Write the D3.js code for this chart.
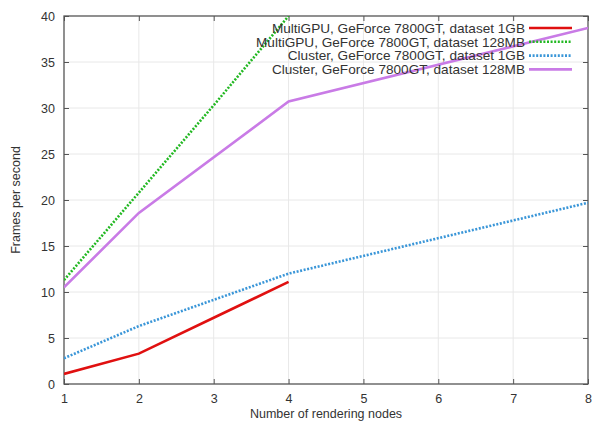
<!DOCTYPE html>
<html><head><meta charset="utf-8">
<script src="https://cdn.jsdelivr.net/npm/d3@7"></script>
<style>
body{margin:0;background:#fff;}
text{font-family:"Liberation Sans",Arial,sans-serif;}
</style></head>
<body><svg id="c" width="594" height="423"></svg>
<script>
const xTicks = [1,2,3,4,5,6,7,8];
const yTicks = [0,5,10,15,20,25,30,35,40];
const seriesNames = [
  "MultiGPU, GeForce 7800GT, dataset 1GB",
  "MultiGPU, GeForce 7800GT, dataset 128MB",
  "Cluster, GeForce 7800GT, dataset 1GB",
  "Cluster, GeForce 7800GT, dataset 128MB"
];
const multiNodes = [1,2,3,4];
const clusterNodes = [1,2,4,8];
const multi1GB = [1.1,3.3,7.2,11.1];
const multi128MB = [11.3,20.8,30.3,40];
const cluster1GB = [2.8,6.3,12.0,19.7];
const cluster128MB = [10.5,18.6,30.7,38.7];
const colors = ["#e01010","#22b822","#3a96d8","#c97be6"];
const dashes = [null,"2,1.6","2,1.6",null];

const svg = d3.select("#c");
const L=64,R=588,T=16,B=384;
const x = d3.scaleLinear().domain([1,8]).range([L,R]);
const y = d3.scaleLinear().domain([0,40]).range([B,T]);

// grid
svg.append("g").selectAll("line").data(xTicks.slice(1,-1)).join("line")
  .attr("x1",d=>x(d)).attr("x2",d=>x(d)).attr("y1",T).attr("y2",B)
  .attr("stroke","#e8e8e8").attr("stroke-width",1);
svg.append("g").selectAll("line").data(yTicks.slice(1,-1)).join("line")
  .attr("y1",d=>y(d)).attr("y2",d=>y(d)).attr("x1",L).attr("x2",R)
  .attr("stroke","#e8e8e8").attr("stroke-width",1);

// axes
const ax = svg.append("g").attr("transform",`translate(0,${B})`)
  .call(d3.axisBottom(x).tickValues(xTicks).tickSize(-5).tickPadding(10).tickFormat(d3.format("d")));
const ay = svg.append("g").attr("transform",`translate(${L},0)`)
  .call(d3.axisLeft(y).tickValues(yTicks).tickSize(-5).tickPadding(9).tickFormat(d3.format("d")));
const axT = svg.append("g").attr("transform",`translate(0,${T})`)
  .call(d3.axisTop(x).tickValues(xTicks).tickSize(-5).tickFormat(""));
const ayR = svg.append("g").attr("transform",`translate(${R},0)`)
  .call(d3.axisRight(y).tickValues(yTicks).tickSize(-5).tickFormat(""));
[ax,ay,axT,ayR].forEach(g=>{
  g.select(".domain").remove();
  g.selectAll("line").attr("stroke","#555");
  g.selectAll("text").attr("fill","#333").style("font-size","12.5px");
});
svg.append("rect").attr("x",L).attr("y",T).attr("width",R-L).attr("height",B-T)
  .attr("fill","none").attr("stroke","#555").attr("stroke-width",1.3);

// lines
const data = [
  multiNodes.map((n,i)=>[n,multi1GB[i]]),
  multiNodes.map((n,i)=>[n,multi128MB[i]]),
  clusterNodes.map((n,i)=>[n,cluster1GB[i]]),
  clusterNodes.map((n,i)=>[n,cluster128MB[i]])
];
const line = d3.line().x(d=>x(d[0])).y(d=>y(d[1]));
svg.append("defs").append("clipPath").attr("id","clip").append("rect")
  .attr("x",L).attr("y",T).attr("width",R-L).attr("height",B-T);
const lg = svg.append("g").attr("clip-path","url(#clip)");
data.forEach((d,i)=>{
  lg.append("path").attr("d",line(d)).attr("fill","none")
    .attr("stroke",colors[i]).attr("stroke-width",2.6)
    .attr("stroke-dasharray",dashes[i]);
});

// legend
const leg = svg.append("g");
seriesNames.forEach((n,i)=>{
  const yy = 28 + i*13.8;
  leg.append("text").attr("x",525).attr("y",yy).attr("dy","0.35em")
    .attr("text-anchor","end").style("font-size","13.6px").attr("fill","#333").text(n);
  leg.append("line").attr("x1",529).attr("x2",572).attr("y1",yy).attr("y2",yy)
    .attr("stroke",colors[i]).attr("stroke-width",2.6).attr("stroke-dasharray",dashes[i]);
});

// titles
svg.append("text").attr("x",(L+R)/2).attr("y",418).attr("text-anchor","middle")
  .style("font-size","12.5px").attr("fill","#333").text("Number of rendering nodes");
svg.append("text").attr("transform","translate(20,200) rotate(-90)").attr("text-anchor","middle")
  .style("font-size","12.5px").attr("fill","#333").text("Frames per second");
</script></body></html>
